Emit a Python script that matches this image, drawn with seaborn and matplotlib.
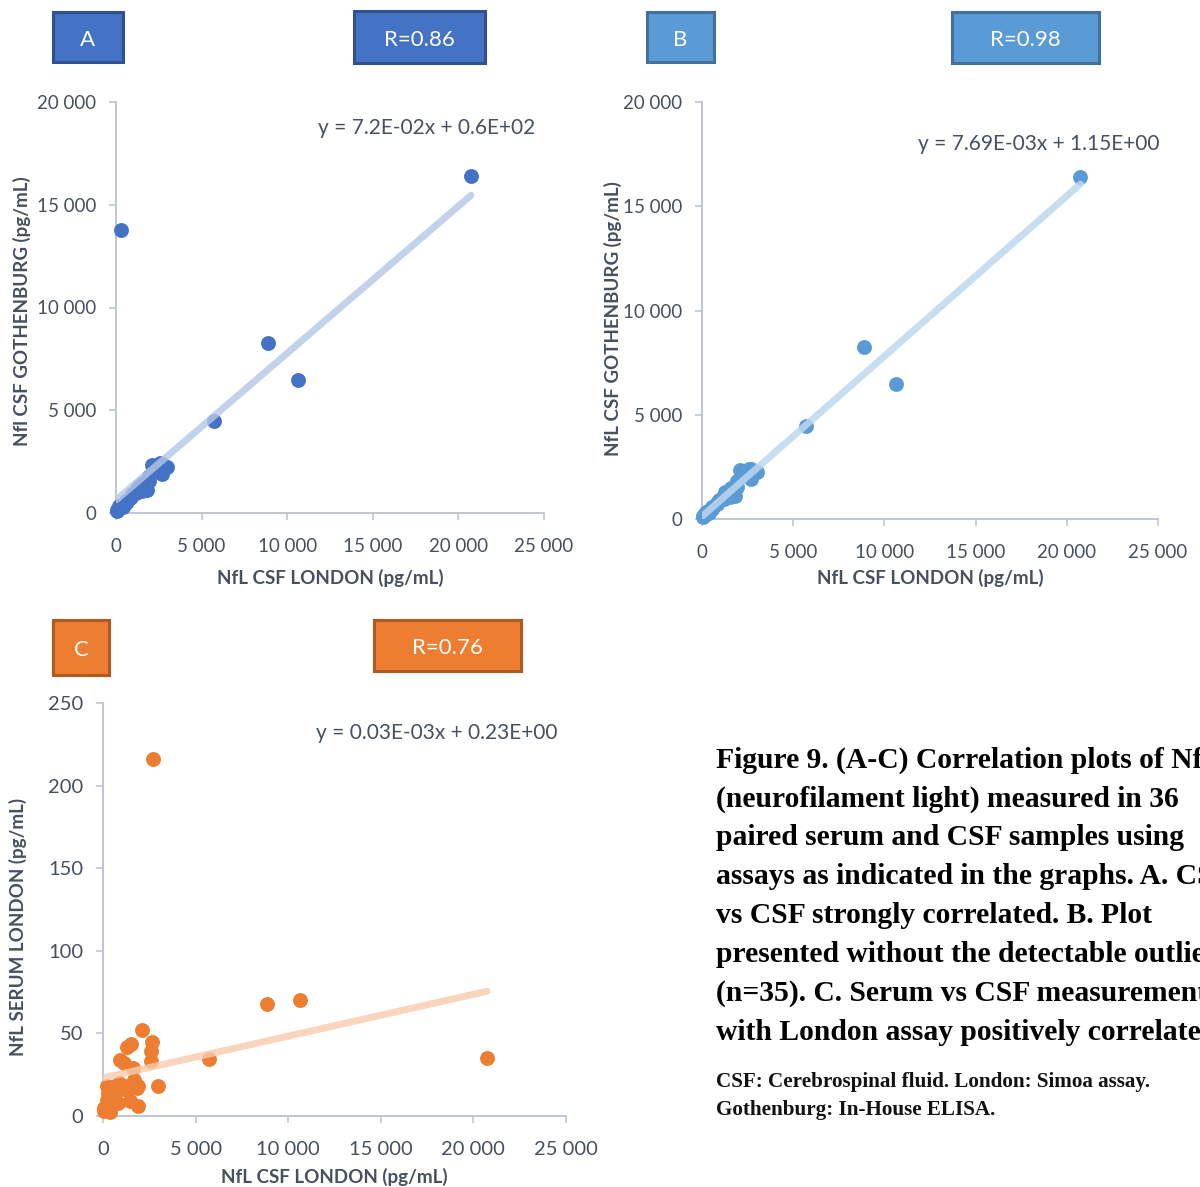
import numpy as np
import pandas as pd
import seaborn as sns
import matplotlib
matplotlib.use("Agg")
import matplotlib.pyplot as plt
from matplotlib.patches import Rectangle
from matplotlib.ticker import FuncFormatter, MultipleLocator

# NfL values (36 paired samples)
csf_london = [20740, 8880, 10650, 5720,
              2700, 2990, 2590, 2660, 2590, 2090, 1910, 1910, 1600, 1510,
              1280, 1150, 920, 1810, 1190, 1280, 830, 1440, 560, 200,
              200, 560, 830, 110, 380, 620, 890, 350, 70, 30, 290, 1700]
csf_gothenburg = [16400, 8270, 6470, 4480,
                  2400, 2250, 2420, 1900, 2300, 2340, 1550, 1800, 1470, 1070,
                  1280, 1040, 910, 1100, 960, 1050, 750, 1150, 590, 350,
                  230, 470, 720, 190, 300, 560, 800, 400, 150, 100, 13770, 1400]
serum_london = [35, 68, 70, 34.5,
                216, 18.3, 33, 44.6, 39.3, 52, 18.3, 6.2, 28.9, 43.4,
                41.6, 32, 34, 17, 18.3, 15.7, 15.7, 9, 17.7, 18.3,
                9.7, 10.7, 7.7, 4.7, 2.6, 12, 20, 6, 3, 5, 14, 22]

df = pd.DataFrame({"london": csf_london, "goth": csf_gothenburg, "serum": serum_london})
# panel B: without the detectable outlier (high Gothenburg, low London)
outlier = (df["goth"] > 10000) & (df["london"] < 1000)
df_b = df[~outlier]

sns.set_style("white")
plt.rcParams["font.family"] = ["Lato", "DejaVu Sans"]

W, H = 1200, 1187
fig = plt.figure(figsize=(12, 11.87), dpi=100)

text_col = "#46505E"
spine_col = "#B9C2D0"


def fx(px):
    return px / W


def fy(py):
    return 1 - py / H


def thousands(v, pos):
    return f"{int(v):,}".replace(",", " ")


def make_axes(left, right, top, bottom):
    return fig.add_axes([fx(left), fy(bottom), fx(right - left), (bottom - top) / H])


def style(ax, xmax, ymax, ystep, xlabel, ylabel, xl, yl, tsize=13.5):
    ax.set_xlim(0, xmax)
    ax.set_ylim(0, ymax)
    ax.xaxis.set_major_locator(MultipleLocator(5000))
    ax.yaxis.set_major_locator(MultipleLocator(ystep))
    ax.xaxis.set_major_formatter(FuncFormatter(thousands))
    ax.yaxis.set_major_formatter(FuncFormatter(thousands))
    for s in ["top", "right"]:
        ax.spines[s].set_visible(False)
    for s in ["left", "bottom"]:
        ax.spines[s].set_color(spine_col)
        ax.spines[s].set_linewidth(1.3)
    ax.tick_params(axis="x", length=5, width=1.1, color=spine_col, labelsize=tsize,
                   labelcolor=text_col, pad=13, direction="out", bottom=True)
    ax.tick_params(axis="y", length=5, width=1.1, color=spine_col, labelsize=tsize,
                   labelcolor=text_col, pad=9, direction="out", left=True)
    ax.set_xlabel(xlabel, fontsize=13.5, fontweight="bold", color=text_col)
    ax.set_ylabel(ylabel, fontsize=13.5, fontweight="bold", color=text_col)
    ax.xaxis.set_label_coords(*xl)
    ax.yaxis.set_label_coords(*yl)


def box(x0, y0, x1, y1, face, edge, label):
    fig.add_artist(Rectangle((fx(x0), fy(y1)), fx(x1 - x0), (y1 - y0) / H,
                             transform=fig.transFigure, facecolor=face,
                             edgecolor=edge, linewidth=2.2))
    fig.text(fx((x0 + x1) / 2), fy((y0 + y1) / 2 + 3), label, color="white",
             fontsize=16, ha="center", va="center")


# Panel A
ax_a = make_axes(116, 544, 102, 513)
sns.regplot(data=df, x="london", y="goth", ax=ax_a, ci=None, truncate=True,
            scatter_kws={"s": 115, "color": "#4472C4", "alpha": 1, "linewidths": 0,
                         "clip_on": False, "zorder": 3},
            line_kws={"color": "#B4C7E7", "lw": 5, "alpha": 0.8, "zorder": 4})
style(ax_a, 25000, 20000, 5000, "NfL CSF LONDON (pg/mL)", "Nfl CSF GOTHENBURG (pg/mL)",
      (0.5, -0.135), (-0.198, 0.49))

# Panel B
ax_b = make_axes(702, 1158, 102, 519)
sns.regplot(data=df_b, x="london", y="goth", ax=ax_b, ci=None, truncate=True,
            scatter_kws={"s": 115, "color": "#5B9BD5", "alpha": 1, "linewidths": 0,
                         "clip_on": False, "zorder": 3},
            line_kws={"color": "#BDD7EE", "lw": 5, "alpha": 0.85, "zorder": 4})
style(ax_b, 25000, 20000, 5000, "NfL CSF LONDON (pg/mL)", "NfL CSF GOTHENBURG (pg/mL)",
      (0.5, -0.12), (-0.175, 0.48))

# Panel C
ax_c = make_axes(103, 566, 703, 1116)
sns.regplot(data=df, x="london", y="serum", ax=ax_c, ci=None, truncate=True,
            scatter_kws={"s": 115, "color": "#ED7D31", "alpha": 1, "linewidths": 0,
                         "clip_on": False, "zorder": 3},
            line_kws={"color": "#F8CBAD", "lw": 5, "alpha": 0.8, "zorder": 4})
style(ax_c, 25000, 250, 50, "NfL CSF LONDON (pg/mL)", "NfL SERUM LONDON (pg/mL)",
      (0.5, -0.126), (-0.164, 0.458), tsize=14.5)

# equations
fig.text(fx(318), fy(128), "y = 7.2E-02x + 0.6E+02", fontsize=15, color=text_col, va="center")
fig.text(fx(918), fy(144), "y = 7.69E-03x + 1.15E+00", fontsize=15, color=text_col, va="center")
fig.text(fx(316), fy(733), "y = 0.03E-03x + 0.23E+00", fontsize=15, color=text_col, va="center")

# label boxes
box(53, 12, 123, 62, "#4472C4", "#2F528F", "A")
box(354, 11, 485, 63, "#4472C4", "#2F528F", "R=0.86")
box(647, 12, 714, 62, "#5B9BD5", "#41719C", "B")
box(952, 12, 1099, 63, "#5B9BD5", "#41719C", "R=0.98")
box(53, 620, 109, 675, "#ED7D31", "#AE5A21", "C")
box(374, 620, 521, 671, "#ED7D31", "#AE5A21", "R=0.76")

# caption (runs past the right edge, as in the original page crop)
caption = ["Figure 9. (A-C) Correlation plots of NfL",
           "(neurofilament light) measured in 36",
           "paired serum and CSF samples using",
           "assays as indicated in the graphs. A. CSF",
           "vs CSF strongly correlated. B. Plot",
           "presented without the detectable outlier",
           "(n=35). C. Serum vs CSF measurements",
           "with London assay positively correlated."]
for i, line in enumerate(caption):
    fig.text(fx(716), fy(760 + i * 38.9), line, fontsize=21.3, fontweight="bold",
             family="Liberation Serif", color="black", va="center")
fig.text(fx(716), fy(1082), "CSF: Cerebrospinal fluid. London: Simoa assay.",
         fontsize=15.2, fontweight="bold", family="Liberation Serif", color="#111111", va="center")
fig.text(fx(716), fy(1110), "Gothenburg: In-House ELISA.",
         fontsize=15.2, fontweight="bold", family="Liberation Serif", color="#111111", va="center")

fig.savefig("out.png", dpi=100)
